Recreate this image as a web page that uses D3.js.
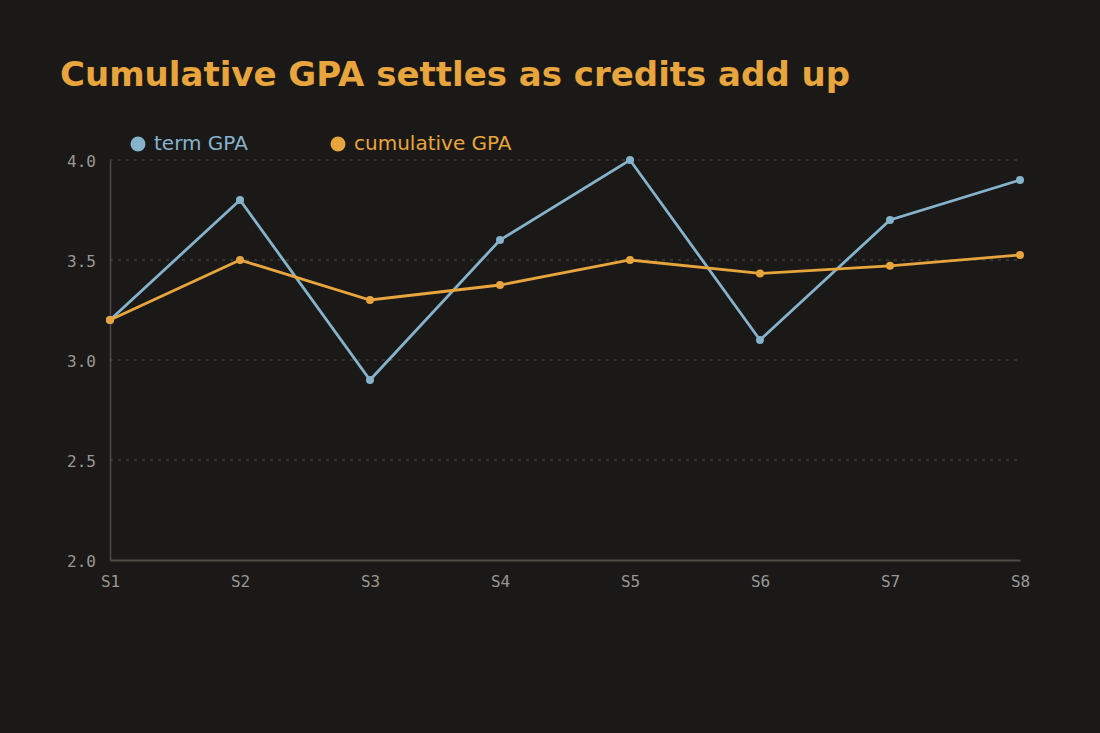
<!DOCTYPE html>
<html>
<head>
<meta charset="utf-8">
<script src="https://cdn.jsdelivr.net/npm/d3@7"></script>
<style>
  html, body { margin: 0; padding: 0; background: #1a1918; }
  svg { display: block; }
</style>
</head>
<body>
<svg id="chart"></svg>
<script>
var w = 1100;
var h = 733;
var terms = ["S1", "S2", "S3", "S4", "S5", "S6", "S7", "S8"];
var termGpa = [3.2, 3.8, 2.9, 3.6, 4.0, 3.1, 3.7, 3.9];
var cumGpa = [3.2, 3.5, 3.3, 3.375, 3.5, 3.433, 3.471, 3.525];
var yTicks = [2.0, 2.5, 3.0, 3.5, 4.0];
var seriesNames = ["term GPA", "cumulative GPA"];
var colors = ["#86b3cb", "#e8a53d"];

var margin = {left: 110, right: 80, top: 160, bottom: 173};

var svg = d3.select("#chart").attr("width", w).attr("height", h);
svg.append("rect").attr("width", w).attr("height", h).attr("fill", "#1a1918");

var x = d3.scalePoint().domain(terms).range([margin.left, w - margin.right]);
var y = d3.scaleLinear().domain([2.0, 4.0]).range([h - margin.bottom, margin.top]);

// title
svg.append("text")
   .attr("x", 60).attr("y", 86)
   .attr("fill", "#e8a53d")
   .style("font-family", "DejaVu Sans")
   .style("font-weight", "bold")
   .style("font-size", "34px")
   .text("Cumulative GPA settles as credits add up");

// grid
svg.append("g").selectAll("line")
   .data(yTicks.filter(function(d){ return d > 2.0; }))
   .join("line")
   .attr("x1", margin.left).attr("x2", w - margin.right)
   .attr("y1", function(d){ return y(d); })
   .attr("y2", function(d){ return y(d); })
   .attr("stroke", "#3e3c38")
   .attr("stroke-width", 1.5)
   .attr("stroke-dasharray", "3,5");

// y axis
var yAxis = svg.append("g")
   .attr("transform", "translate(" + margin.left + ",0)")
   .call(d3.axisLeft(y).tickValues(yTicks).tickFormat(d3.format(".1f")).tickSize(0).tickPadding(14));
yAxis.select(".domain").attr("stroke", "#4f4d46").attr("stroke-width", 1.5);
yAxis.selectAll("text")
   .attr("dy", "0.4em")
   .attr("fill", "#9a9894")
   .style("font-family", "DejaVu Sans Mono")
   .style("font-size", "16px");

// x axis
var xAxis = svg.append("g")
   .attr("transform", "translate(0," + (h - margin.bottom) + ")")
   .call(d3.axisBottom(x).tickSize(0).tickPadding(16));
xAxis.select(".domain").attr("stroke", "#4f4d46").attr("stroke-width", 2);
xAxis.selectAll("text")
   .attr("fill", "#9a9894")
   .style("font-family", "DejaVu Sans Mono")
   .style("font-size", "16px");

// lines
var allSeries = [termGpa, cumGpa];
var line = d3.line()
   .x(function(d, i){ return x(terms[i]); })
   .y(function(d){ return y(d); });

allSeries.forEach(function(s, k){
   svg.append("path")
      .datum(s)
      .attr("d", line)
      .attr("fill", "none")
      .attr("stroke", colors[k])
      .attr("stroke-width", 2.8);
   svg.append("g").selectAll("circle")
      .data(s)
      .join("circle")
      .attr("cx", function(d, i){ return x(terms[i]); })
      .attr("cy", function(d){ return y(d); })
      .attr("r", 4)
      .attr("fill", colors[k]);
});

// legend
var legendX = [138, 338];
seriesNames.forEach(function(name, k){
   svg.append("circle")
      .attr("cx", legendX[k]).attr("cy", 144)
      .attr("r", 7.5)
      .attr("fill", colors[k]);
   svg.append("text")
      .attr("x", legendX[k] + 16).attr("y", 150)
      .attr("fill", colors[k])
      .style("font-family", "DejaVu Sans")
      .style("font-size", "20px")
      .text(name);
});
</script>
</body>
</html>
